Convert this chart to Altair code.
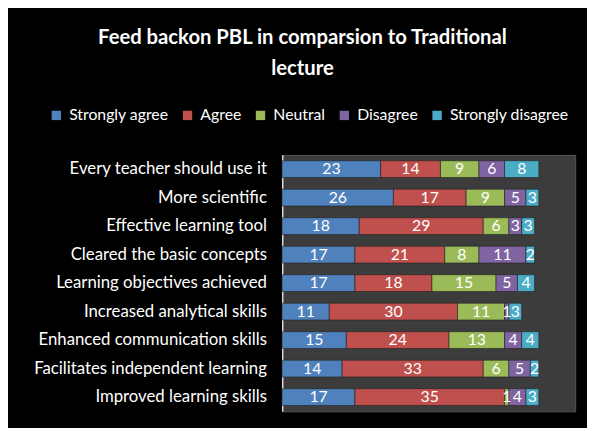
import altair as alt
import pandas as pd

categories = [
    "Every teacher should use it",
    "More scientific",
    "Effective learning tool",
    "Cleared the basic concepts",
    "Learning objectives achieved",
    "Increased analytical skills",
    "Enhanced communication skills",
    "Facilitates independent learning",
    "Improved learning skills",
]
levels = ["Strongly agree", "Agree", "Neutral", "Disagree", "Strongly disagree"]
strongly_agree = [23, 26, 18, 17, 17, 11, 15, 14, 17]
agree = [14, 17, 29, 21, 18, 30, 24, 33, 35]
neutral = [9, 9, 6, 8, 15, 11, 13, 6, 1]
disagree = [6, 5, 3, 11, 5, 1, 4, 5, 4]
strongly_disagree = [8, 3, 3, 2, 4, 3, 4, 2, 3]
colors = ["#4f81bd", "#c0504d", "#9bbb59", "#8064a2", "#4bacc6"]

series = [strongly_agree, agree, neutral, disagree, strongly_disagree]
rows = []
for i, c in enumerate(categories):
    for j, lvl in enumerate(levels):
        rows.append({"item": c, "response": lvl, "order": j, "value": series[j][i]})
df = pd.DataFrame(rows)

FONT = "Lato"

base = (
    alt.Chart(df)
    .transform_window(
        cum="sum(value)",
        groupby=["item"],
        sort=[alt.SortField("order")],
        frame=[None, 0],
    )
    .transform_calculate(start="datum.cum - datum.value", mid="datum.cum - datum.value / 2")
)

y = alt.Y(
    "item:N",
    sort=categories,
    scale=alt.Scale(paddingInner=0.4, paddingOuter=0.2),
    axis=alt.Axis(
        title=None,
        labelColor="white",
        labelFontSize=17,
        labelFont=FONT,
        ticks=False,
        domainColor="#d9d9d9",
        domainWidth=1.5,
        labelPadding=16,
        labelLimit=400,
    ),
)
xscale = alt.Scale(domain=[0, 68.5], nice=False, zero=True)

bars = base.mark_bar(size=17, stroke="#222222", strokeWidth=0.6).encode(
    x=alt.X("start:Q", scale=xscale, axis=None),
    x2="cum:Q",
    y=y,
    color=alt.Color(
        "response:N",
        sort=levels,
        scale=alt.Scale(domain=levels, range=colors),
        legend=alt.Legend(
            title=None,
            orient="none",
            direction="horizontal",
            legendX=-237,
            legendY=-48,
            labelColor="white",
            labelFontSize=16,
            labelFont=FONT,
            symbolType="square",
            symbolSize=90,
            symbolStrokeWidth=0,
            columnPadding=11,
            labelOffset=5,
        ),
    ),
    order=alt.Order("order:Q"),
)

labels = base.mark_text(color="white", fontSize=16, font=FONT, baseline="middle").encode(
    x=alt.X("mid:Q", scale=xscale, axis=None),
    y=alt.Y("item:N", sort=categories),
    text="value:Q",
)

chart = (
    alt.layer(bars, labels)
    .properties(
        width=297,
        height=260,
        background="black",
        padding={"left": 278, "top": 146, "right": 12, "bottom": 14},
        autosize=alt.AutoSizeParams(type="none"),
        title=alt.TitleParams(
            text=["Feed backon PBL in comparsion to Traditional", "lecture"],
            anchor="middle",
            frame="group",
            dx=-128,
            offset=28,
            fontSize=20.5,
            font=FONT,
            fontWeight="bold",
            color="white",
            lineHeight=32,
        ),
    )
    .configure_view(fill="#3c3c3c", stroke="#555555")
)

chart.save("out.html", embed_options={"renderer": "svg", "actions": False})
